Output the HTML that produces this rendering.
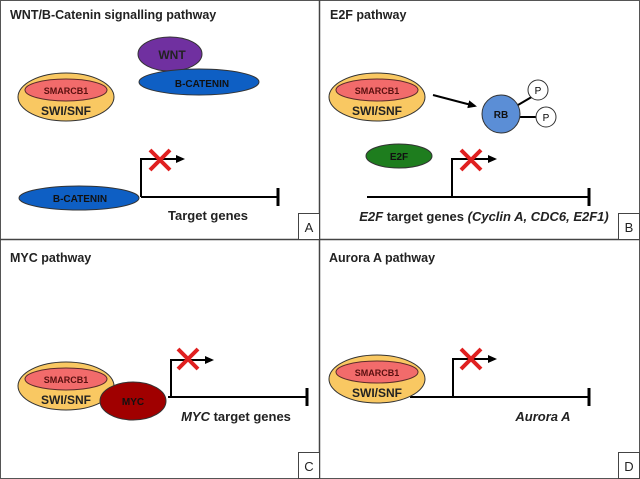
<!DOCTYPE html>
<html><head><style>body{margin:0;background:#fff}svg{display:block}text{font-family:"Liberation Sans",sans-serif}</style></head><body>
<svg width="640" height="479" viewBox="0 0 640 479" xmlns="http://www.w3.org/2000/svg">
<defs><marker id="ah" markerWidth="10" markerHeight="10" refX="7" refY="4" orient="auto" markerUnits="userSpaceOnUse"><path d="M0,0 L9,4 L0,8z" fill="#000"/></marker>
<g id="x"><path d="M-10,-10 L10,10 M10,-10 L-10,10" stroke="#e02020" stroke-width="4"/></g>
<g id="swi"><ellipse cx="0" cy="0" rx="48" ry="24" fill="#F9C862" stroke="#333" stroke-width="1"/><ellipse cx="0" cy="-7" rx="41" ry="11" fill="#F26B6B" stroke="#5a2a2a" stroke-width="1"/><text x="0" y="-3" font-size="9" font-weight="bold" text-anchor="middle" fill="#5a1010">SMARCB1</text><text x="0" y="18" font-size="12" font-weight="bold" text-anchor="middle" fill="#222">SWI/SNF</text></g></defs>
<rect x="0.5" y="0.5" width="639" height="478" fill="#fff" stroke="#555"/>
<line x1="319.5" y1="0" x2="319.5" y2="479" stroke="#444" stroke-width="1.5"/>
<line x1="0" y1="239.5" x2="640" y2="239.5" stroke="#444" stroke-width="1.5"/>
<g font-weight="bold" font-size="12.5" fill="#222">
<text x="10" y="19">WNT/B-Catenin signalling pathway</text>
<text x="330" y="19">E2F pathway</text>
<text x="10" y="262">MYC pathway</text>
<text x="329" y="262">Aurora A pathway</text></g>
<g fill="#fff" stroke="#444"><rect x="298.5" y="213.5" width="21" height="26"/><rect x="618.5" y="213.5" width="21" height="26"/><rect x="298.5" y="452.5" width="21" height="26"/><rect x="618.5" y="452.5" width="21" height="26"/></g>
<g font-size="13" text-anchor="middle" fill="#222"><text x="309" y="232">A</text><text x="629" y="232">B</text><text x="309" y="471">C</text><text x="629" y="471">D</text></g>
<!-- A -->
<ellipse cx="170" cy="54" rx="32" ry="17" fill="#7030A0" stroke="#333"/>
<text x="172" y="59" font-size="12" font-weight="bold" text-anchor="middle" fill="#222">WNT</text>
<ellipse cx="199" cy="82" rx="60" ry="13" fill="#0E5FC4" stroke="#333"/>
<text x="202" y="87" font-size="10" font-weight="bold" text-anchor="middle" fill="#111">B-CATENIN</text>
<use href="#swi" x="66" y="97"/>
<path d="M141,197 V159 H183" fill="none" stroke="#000" stroke-width="2" marker-end="url(#ah)"/>
<line x1="141" y1="197" x2="278" y2="197" stroke="#000" stroke-width="2"/><line x1="278" y1="188" x2="278" y2="206" stroke="#000" stroke-width="3"/>
<ellipse cx="79" cy="198" rx="60" ry="12" fill="#0E5FC4" stroke="#333"/>
<text x="80" y="202" font-size="10" font-weight="bold" text-anchor="middle" fill="#111">B-CATENIN</text>
<use href="#x" x="160" y="160"/>
<text x="208" y="220" font-size="13" font-weight="bold" text-anchor="middle" fill="#222">Target genes</text>
<!-- B -->
<use href="#swi" x="377" y="97"/>
<line x1="433" y1="95" x2="475" y2="106" stroke="#000" stroke-width="2" marker-end="url(#ah)"/>
<line x1="518" y1="105" x2="535" y2="95" stroke="#000" stroke-width="2"/><line x1="520" y1="117" x2="537" y2="117" stroke="#000" stroke-width="2"/>
<circle cx="501" cy="114" r="19" fill="#5B8ED6" stroke="#333"/>
<text x="501" y="118" font-size="10" font-weight="bold" text-anchor="middle" fill="#111">RB</text>
<circle cx="538" cy="90" r="10" fill="#fff" stroke="#333"/><text x="538" y="94" font-size="10" text-anchor="middle">P</text>
<circle cx="546" cy="117" r="10" fill="#fff" stroke="#333"/><text x="546" y="121" font-size="10" text-anchor="middle">P</text>
<ellipse cx="399" cy="156" rx="33" ry="12" fill="#1E7D1E" stroke="#333"/>
<text x="399" y="160" font-size="10" font-weight="bold" text-anchor="middle" fill="#111">E2F</text>
<path d="M452,197 V159 H495" fill="none" stroke="#000" stroke-width="2" marker-end="url(#ah)"/>
<line x1="367" y1="197" x2="589" y2="197" stroke="#000" stroke-width="2"/><line x1="589" y1="188" x2="589" y2="206" stroke="#000" stroke-width="3"/>
<use href="#x" x="471" y="160"/>
<text x="484" y="221" font-size="13" font-weight="bold" text-anchor="middle" fill="#222"><tspan font-style="italic">E2F</tspan> target genes <tspan font-style="italic">(Cyclin A, CDC6, E2F1)</tspan></text>
<!-- C -->
<use href="#swi" x="66" y="386"/>
<path d="M171,397 V360 H212" fill="none" stroke="#000" stroke-width="2" marker-end="url(#ah)"/>
<line x1="168" y1="397" x2="307" y2="397" stroke="#000" stroke-width="2"/><line x1="307" y1="388" x2="307" y2="406" stroke="#000" stroke-width="3"/>
<ellipse cx="133" cy="401" rx="33" ry="19" fill="#A00000" stroke="#333"/>
<text x="133" y="405" font-size="10" font-weight="bold" text-anchor="middle" fill="#111">MYC</text>
<use href="#x" x="188" y="359"/>
<text x="236" y="421" font-size="13" font-weight="bold" text-anchor="middle" fill="#222"><tspan font-style="italic">MYC</tspan> target genes</text>
<!-- D -->
<line x1="410" y1="397" x2="589" y2="397" stroke="#000" stroke-width="2"/><line x1="589" y1="388" x2="589" y2="406" stroke="#000" stroke-width="3"/>
<use href="#swi" x="377" y="379"/>
<path d="M453,397 V359 H495" fill="none" stroke="#000" stroke-width="2" marker-end="url(#ah)"/>
<use href="#x" x="471" y="359"/>
<text x="543" y="421" font-size="13" font-weight="bold" font-style="italic" text-anchor="middle" fill="#222">Aurora A</text>
</svg>
</body></html>
